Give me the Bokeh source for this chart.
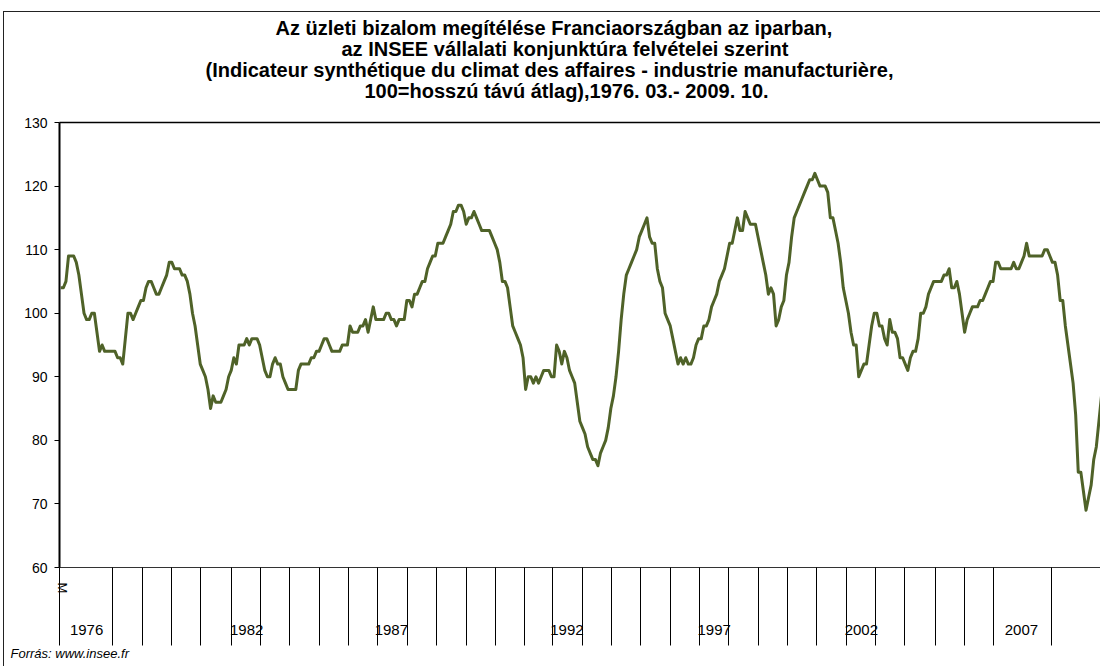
import math
from bokeh.plotting import figure
from bokeh.models import Range1d, FixedTicker, Title, LinearAxis
from bokeh.embed import file_html
from bokeh.resources import INLINE

title_lines = [
    "Az üzleti bizalom megítélése Franciaországban az iparban,",
    "az INSEE vállalati konjunktúra felvételei szerint",
    "(Indicateur synthétique du climat des affaires - industrie manufacturière,",
    "100=hosszú távú átlag),1976. 03.- 2009. 10.",
]
source_note = "Forrás: www.insee.fr"

# monthly values, 1976.03 - 2009.10
v1976 = [104, 104, 105, 109, 109, 109, 108, 106, 103, 100]
v1977 = [99, 99, 100, 100, 97, 94, 95, 94, 94, 94, 94, 94]
v1978 = [93, 93, 92, 96, 100, 100, 99, 100, 101, 102, 102, 104]
v1979 = [105, 105, 104, 103, 103, 104, 105, 106, 108, 108, 107, 107]
v1980 = [107, 106, 106, 105, 103, 100, 98, 95, 92, 91, 90, 88]
v1981 = [85, 87, 86, 86, 86, 87, 88, 90, 91, 93, 92, 95]
v1982 = [95, 95, 96, 95, 96, 96, 96, 95, 93, 91, 90, 90]
v1983 = [92, 93, 92, 92, 90, 89, 88, 88, 88, 88, 91, 92]
v1984 = [92, 92, 92, 93, 93, 94, 94, 95, 96, 96, 95, 94]
v1985 = [94, 94, 94, 95, 95, 95, 98, 97, 97, 97, 98, 98]
v1986 = [99, 97, 99, 101, 99, 99, 99, 99, 100, 100, 99, 99]
v1987 = [98, 99, 99, 99, 102, 102, 101, 103, 103, 104, 105, 105]
v1988 = [107, 108, 109, 109, 111, 111, 111, 112, 113, 114, 116, 116]
v1989 = [117, 117, 116, 114, 115, 115, 116, 115, 114, 113, 113, 113]
v1990 = [113, 112, 111, 110, 108, 105, 105, 104, 101, 98, 97, 96]
v1991 = [95, 93, 88, 90, 90, 89, 90, 89, 90, 91, 91, 91]
v1992 = [90, 90, 95, 94, 92, 94, 93, 91, 90, 89, 86, 83]
v1993 = [82, 81, 79, 78, 77, 77, 76, 78, 79, 80, 82, 85]
v1994 = [87, 90, 94, 99, 103, 106, 107, 108, 109, 110, 112, 113]
v1995 = [114, 115, 112, 111, 111, 107, 105, 104, 100, 99, 98, 96]
v1996 = [94, 92, 93, 92, 93, 92, 92, 93, 95, 96, 96, 98]
v1997 = [98, 99, 101, 102, 103, 105, 106, 107, 109, 111, 111, 113]
v1998 = [115, 113, 113, 116, 115, 114, 114, 114, 112, 110, 108, 106]
v1999 = [103, 104, 103, 98, 99, 101, 102, 106, 108, 112, 115, 116]
v2000 = [117, 118, 119, 120, 121, 121, 122, 121, 120, 120, 120, 119]
v2001 = [115, 115, 113, 111, 108, 104, 102, 100, 97, 95, 95, 90]
v2002 = [91, 92, 92, 95, 98, 100, 100, 98, 98, 96, 95, 99]
v2003 = [97, 97, 96, 93, 93, 92, 91, 93, 94, 94, 96, 100]
v2004 = [100, 101, 103, 104, 105, 105, 105, 105, 106, 106, 107, 104]
v2005 = [104, 105, 103, 100, 97, 99, 100, 101, 101, 101, 102, 102]
v2006 = [103, 104, 105, 105, 108, 108, 107, 107, 107, 107, 107, 108]
v2007 = [107, 107, 108, 109, 111, 109, 109, 109, 109, 109, 109, 110]
v2008 = [110, 109, 108, 108, 106, 102, 102, 98, 95, 92, 89, 84]
v2009 = [75, 75, 72, 69, 71, 73, 77, 79, 83, 87]

values = (v1976 + v1977 + v1978 + v1979 + v1980 + v1981 + v1982 + v1983 + v1984
          + v1985 + v1986 + v1987 + v1988 + v1989 + v1990 + v1991 + v1992 + v1993
          + v1994 + v1995 + v1996 + v1997 + v1998 + v1999 + v2000 + v2001 + v2002
          + v2003 + v2004 + v2005 + v2006 + v2007 + v2008 + v2009)
obs = list(range(len(values)))  # category index (months from 1976.03)

y_ticks = [60, 70, 80, 90, 100, 110, 120, 130]
month_label = "M"
month_label_obs = 0.5
year_labels = ["1976", "1982", "1987", "1992", "1997", "2002", "2007"]
year_label_obs = [10, 72, 128, 196, 253, 310, 372]
group_breaks = [-0.5, 20.0, 31.6, 42.9, 54.1, 66.1, 77.3, 88.5, 100.2, 111.4, 122.6,
                134.3, 145.5, 157.1, 168.3, 179.6, 190.3, 202.0, 213.3, 224.5, 236.1,
                247.3, 258.6, 270.2, 281.4, 292.6, 304.3, 315.5, 326.7, 338.7, 349.9,
                361.2, 383.6]

FONT = "Liberation Sans"

p = figure(width=1097, height=655, output_backend="svg", toolbar_location=None,
           x_range=Range1d(-0.5, len(values) - 1), y_range=Range1d(60, 130),
           min_border_left=55, min_border_right=0, min_border_top=110,
           min_border_bottom=100)
p.styles = {"margin-left": "3px", "margin-top": "11px",
            "border-left": "1px solid #222", "border-top": "1px solid #222"}
p.outline_line_color = None
p.background_fill_color = "white"
p.border_fill_color = "white"
p.xgrid.visible = False
p.ygrid.visible = False

xa = p.below[0]   # bottom category axis (first level + separators)
ya = p.left[0]

# top edge of the plot area (axis line only, invisible tick), leaves room under the title
top_axis = LinearAxis(ticker=FixedTicker(ticks=[200], minor_ticks=[]))
top_axis.major_label_overrides = {200: ""}
top_axis.axis_line_color = "black"
top_axis.axis_line_width = 1.5
top_axis.major_tick_out = 22
top_axis.major_tick_in = 0
top_axis.minor_tick_out = 0
top_axis.minor_tick_in = 0
top_axis.major_tick_line_color = None
top_axis.minor_tick_line_color = None
top_axis.major_label_standoff = 0
p.add_layout(top_axis, "above")

# title lines: p.title is the outermost (first line); others stack from the plot upward
title_offsets = [216, 282, 146, 305]


def style_title(t, line, off):
    t.text = line
    t.align = "left"
    t.offset = off
    t.text_font = FONT
    t.text_font_size = "20px"
    t.text_font_style = "bold"
    t.text_color = "black"
    t.text_line_height = 1.0
    t.standoff = -3.5


style_title(p.title, title_lines[0], title_offsets[0])
for k in (3, 2, 1):
    t = Title()
    style_title(t, title_lines[k], title_offsets[k])
    p.add_layout(t, "above")

p.line(obs, values, line_color="#4F6228", line_width=3, line_join="round")

ya.ticker = FixedTicker(ticks=y_ticks)
ya.major_tick_out = 5
ya.major_tick_in = 0
ya.minor_tick_out = 0
ya.minor_tick_in = 0
ya.axis_line_width = 2
ya.axis_line_color = "black"
ya.major_tick_line_color = "black"
ya.major_label_text_font = FONT
ya.major_label_text_font_size = "14px"
ya.major_label_text_color = "black"
ya.major_label_standoff = 7

xa.ticker = FixedTicker(ticks=[month_label_obs], minor_ticks=group_breaks)
xa.major_label_overrides = {month_label_obs: month_label}
xa.major_label_orientation = "vertical"
xa.major_tick_out = 0
xa.major_tick_in = 0
xa.minor_tick_out = 78
xa.minor_tick_in = 0
xa.minor_tick_line_color = "black"
xa.minor_tick_line_width = 1
xa.axis_line_color = "#333333"
xa.axis_line_width = 1
xa.major_label_standoff = -63
xa.major_label_text_font = FONT
xa.major_label_text_font_size = "13px"
xa.major_label_text_color = "black"

# second category level (years)
xb = LinearAxis(ticker=FixedTicker(ticks=year_label_obs, minor_ticks=[]))
xb.major_label_overrides = {k: t for k, t in zip(year_label_obs, year_labels)}
xb.axis_line_color = None
xb.major_tick_line_color = None
xb.minor_tick_line_color = None
xb.major_tick_out = 0
xb.major_tick_in = 0
xb.minor_tick_out = 0
xb.minor_tick_in = 0
xb.major_label_standoff = 28
xb.major_label_text_font = FONT
xb.major_label_text_font_size = "15px"
xb.major_label_text_color = "black"
p.add_layout(xb, "below")

note = Title(text=source_note, align="left", offset=-49, standoff=13,
             text_font=FONT, text_font_size="13px", text_font_style="italic",
             text_color="black")
p.add_layout(note, "below")

open("out.html", "w").write(file_html(p, INLINE))
